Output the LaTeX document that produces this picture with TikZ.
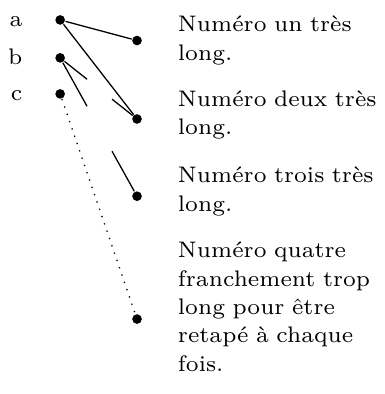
\documentclass[tikz,border=0pt]{standalone}
\usetikzlibrary{positioning,calc}
\begin{document}
\begin{tikzpicture}[
  x=1pt,y=-1pt,
  font=\fontsize{7}{8.8}\selectfont,
  dot/.style={circle,fill=black,inner sep=0pt,minimum size=3pt},
  lbl/.style={anchor=mid east},
  txt/.style={text width=64pt,align=left},
  lien/.style={line width=0.4pt}
]
  \useasboundingbox (0,0) rectangle (119.4,122.5);
  \node[dot] (a) at (18.7,6.2) {};
  \node[dot] (b) at (18.7,18.0) {};
  \node[dot] (c) at (18.7,29.2) {};
  \node[dot] (un) at (42.6,12.6) {};
  \node[dot] (deux) at (42.6,37.0) {};
  \node[dot] (trois) at (42.6,61.0) {};
  \node[dot] (quatre) at (42.6,99.2) {};

  \node[left=6.5pt of a,lbl] (la) {a};
  \node[left=6.5pt of b,lbl] (lb) {b};
  \node[left=6.5pt of c,lbl] (lc) {c};

  \node[txt,right=7.5pt of un] (tun) {Numéro un très long.};
  \node[txt,right=7.5pt of deux,yshift=1.2pt] (tdeux) {Numéro deux très long.};
  \node[txt,right=7.5pt of trois,yshift=1.5pt] (ttrois) {Numéro trois très long.};
  \node[txt,right=7.5pt of quatre,yshift=3.8pt] (tquatre) {Numéro quatre franchement trop long pour être retapé à chaque fois.};

  \draw[lien] (a) -- (un);
  \draw[lien] (a) -- (deux);
  \draw[lien] (b) -- ($(b)!0.35!(deux)$);
  \draw[lien] ($(b)!0.675!(deux)$) -- (deux);
  \draw[lien] (b) -- ($(b)!0.35!(trois)$);
  \draw[lien] ($(b)!0.675!(trois)$) -- (trois);
  \draw[lien,dotted] (c) -- (quatre);
\end{tikzpicture}
\end{document}
